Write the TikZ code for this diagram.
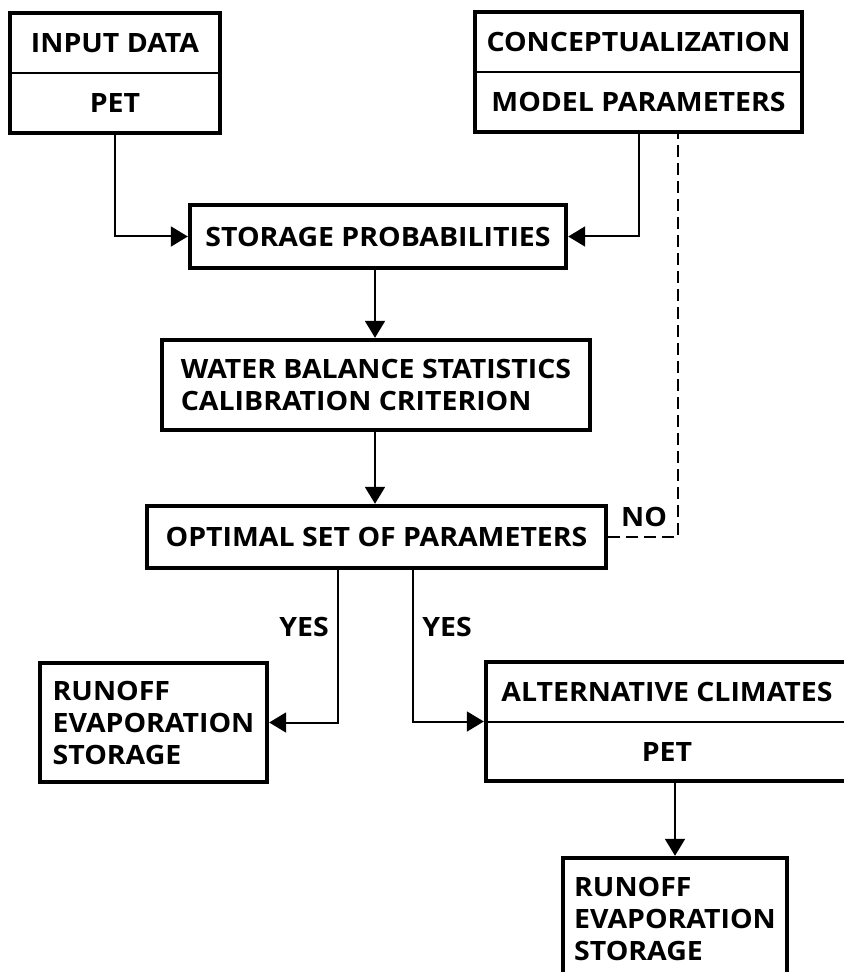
\documentclass[tikz,border=0pt]{standalone}
\usepackage{fontspec}
\setmainfont[FakeStretch=1.07]{Open Sans}
\usetikzlibrary{arrows.meta}

\begin{document}
\begin{tikzpicture}
    [x=0.5pt,y=-0.5pt,
     every node/.style={font=\fontsize{13.3}{16}\selectfont\bfseries},
     box/.style={draw,line width=2.2pt,inner sep=0pt,align=left},
     arr/.style={line width=1pt,-{Triangle[length=8.5pt,width=10pt]}},
     thinline/.style={line width=1pt}]
  \useasboundingbox (0,0) rectangle (843,972);
  % two-part boxes
  \node[box,minimum width=105pt,minimum height=60pt] (indata) at (115,73) {};
  \node (indatatop) at ([yshift=15pt]indata.center) {INPUT DATA};
  \node (indatabot) at ([yshift=-15pt]indata.center) {PET};
  \draw[thinline] (indata.west) -- (indata.east);
  \node[box,minimum width=163.5pt,minimum height=60pt] (concept) at (638.5,72) {};
  \node (concepttop) at ([yshift=15pt]concept.center) {CONCEPTUALIZATION};
  \node (conceptbot) at ([yshift=-15pt]concept.center) {MODEL PARAMETERS};
  \draw[thinline] (concept.west) -- (concept.east);
  % main chain
  \node[box,minimum width=188pt,minimum height=31.5pt] (storage) at (378,236.5) {STORAGE PROBABILITIES};
  \node[box,minimum width=214pt,minimum height=45pt] (water) at (376,385) {WATER BALANCE STATISTICS\\CALIBRATION CRITERION};
  \node[box,minimum width=229.5pt,minimum height=31pt] (optimal) at (376.5,537) {OPTIMAL SET OF PARAMETERS};
  \node[box,minimum width=113.5pt,minimum height=59.5pt] (runoffa) at (153.5,722.5) {RUNOFF\\EVAPORATION\\STORAGE};
  \node[box,minimum width=181pt,minimum height=59.5pt] (altclim) at (667,721.5) {};
  \node (altclimtop) at ([yshift=15pt]altclim.center) {ALTERNATIVE CLIMATES};
  \node (altclimbot) at ([yshift=-15pt]altclim.center) {PET};
  \draw[thinline] (altclim.west) -- (altclim.east);
  \node[box,minimum width=112pt,minimum height=61pt] (runoffb) at (675,919) {RUNOFF\\EVAPORATION\\STORAGE};
  % labels
  \node (no) at (644,517) {NO};
  \node (yesa) at (304,627) {YES};
  \node (yesb) at (447,627) {YES};
  % connectors
  \coordinate (spine) at (375,0);
  \coordinate (yesleft) at (338,0);
  \coordinate (yesright) at (413,0);
  \coordinate (noline) at (678,0);
  \draw[arr] (indata.south) |- (storage.west);
  \draw[arr] (concept.south) |- (storage.east);
  \draw[arr] (spine |- storage.south) -- (spine |- water.north);
  \draw[arr] (spine |- water.south) -- (spine |- optimal.north);
  \draw[thinline,dash pattern=on 6pt off 3pt] (optimal.east) -| (noline |- concept.south);
  \draw[arr] (yesleft |- optimal.south) |- (runoffa.east);
  \draw[arr] (yesright |- optimal.south) |- (altclim.west);
  \draw[arr] (runoffb.north |- altclim.south) -- (runoffb.north);
\end{tikzpicture}
\end{document}
